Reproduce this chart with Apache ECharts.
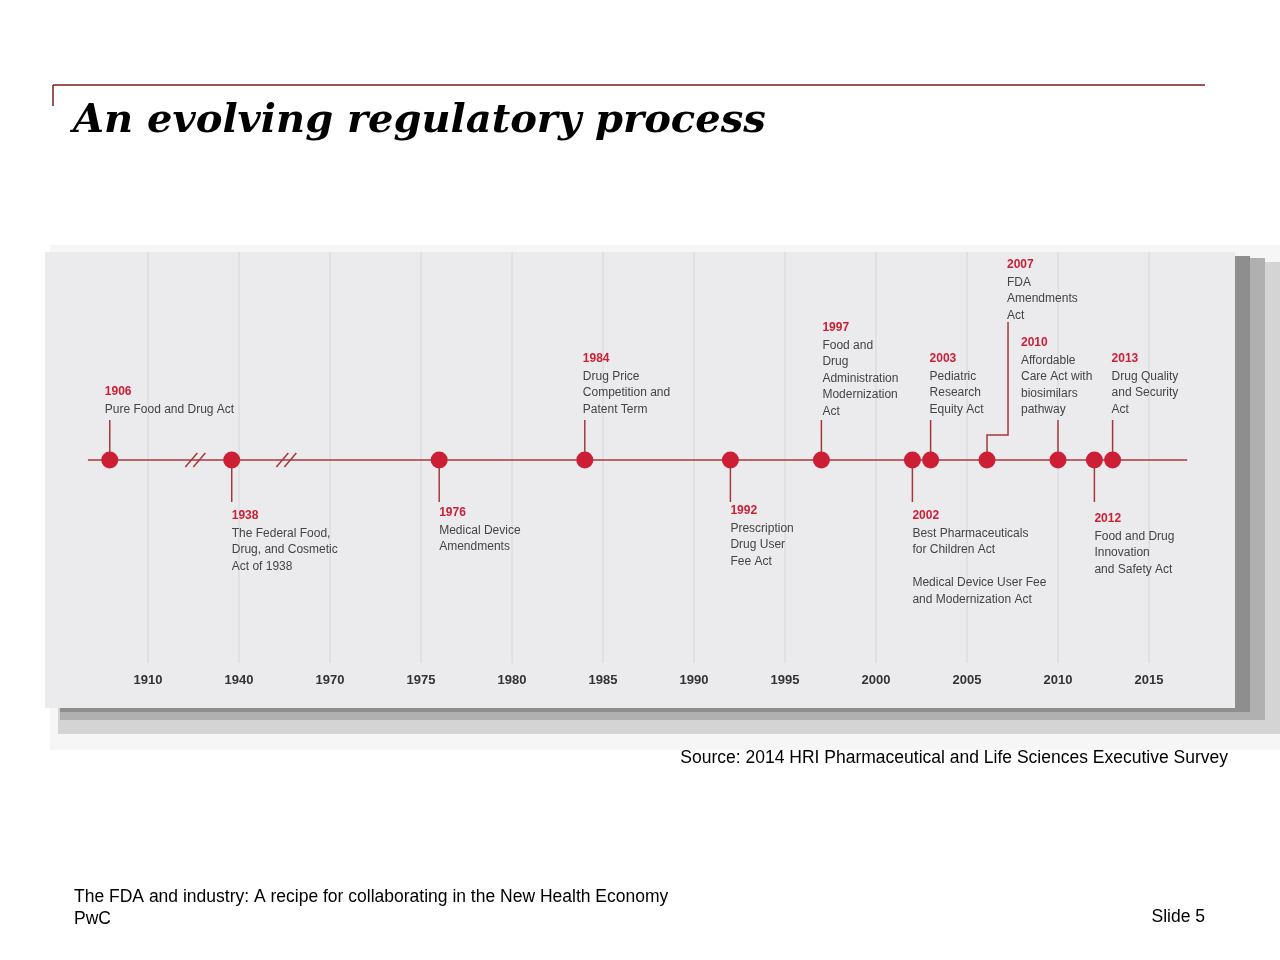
<!DOCTYPE html>
<html><head><meta charset="utf-8">
<script src="https://cdn.jsdelivr.net/npm/echarts@6/dist/echarts.min.js"></script>
<style>html,body{margin:0;padding:0;background:#fff}#c{width:1280px;height:960px}</style>
</head><body><div id="c"></div>
<script>
// Axis tick labels (axis value -> shown label; early decades compressed)
const tickValues = [1960,1965,1970,1975,1980,1985,1990,1995,2000,2005,2010,2015];
const tickLabels = ['1910','1940','1970','1975','1980','1985','1990','1995','2000','2005','2010','2015'];
// Events
const eventYears = ['1906','1938','1976','1984','1992','1997','2002','2003','2007','2010','2012','2013'];
const eventPos   = [1957.9,1964.6,1976,1984,1992,1997,2002,2003,2006.1,2010,2012,2013];
const eventText = [
 'Pure Food and Drug Act',
 'The Federal Food,\nDrug, and Cosmetic\nAct of 1938',
 'Medical Device\nAmendments',
 'Drug Price\nCompetition and\nPatent Term',
 'Prescription\nDrug User\nFee Act',
 'Food and\nDrug\nAdministration\nModernization\nAct',
 'Best Pharmaceuticals\nfor Children Act\n\nMedical Device User Fee\nand Modernization Act',
 'Pediatric\nResearch\nEquity Act',
 'FDA\nAmendments\nAct',
 'Affordable\nCare Act with\nbiosimilars\npathway',
 'Food and Drug\nInnovation\nand Safety Act',
 'Drug Quality\nand Security\nAct'
];
// layout: side (1 up, -1 down), year label top pixel, text x offset from dot
const eventSide = [1,-1,-1,1,-1,1,-1,1,1,1,-1,1];
const eventLabelTop = [386,510,507,353,505,322,510,353,259,337,513,353];
const eventTextDx = [-5,0,0,-2,0,1,0,-1,0,-37,0,-1];

const TOP = 252, LINE_Y = 460;
const labelMap = {}; tickValues.forEach((v,i)=>labelMap[v]=tickLabels[i]);

const chart = echarts.init(document.getElementById('c'));
const yv = p => p - TOP;
const FONT = '12px "Liberation Sans", Arial, sans-serif';
chart.setOption({
  animation:false,
  graphic:[
    {type:'rect',shape:{x:50,y:245,width:1230,height:505},style:{fill:'#f6f6f6'},z:-11},
    {type:'rect',shape:{x:58,y:262,width:1222,height:472},style:{fill:'#d4d4d4'},z:-10},
    {type:'rect',shape:{x:60,y:258,width:1205,height:462},style:{fill:'#b0b0b0'},z:-9},
    {type:'rect',shape:{x:60,y:256,width:1190,height:456},style:{fill:'#8e8e8e'},z:-8},
    {type:'rect',shape:{x:45,y:252,width:1190,height:456},style:{fill:'#ebebed'},z:-7},
    {type:'line',shape:{x1:53,y1:85,x2:1205,y2:85},style:{stroke:'#7b1c1c',lineWidth:1.5}},
    {type:'line',shape:{x1:53,y1:85,x2:53,y2:106},style:{stroke:'#7b1c1c',lineWidth:1.5}},
    {type:'text',left:73,top:102,style:{text:'An evolving regulatory process',fill:'#000',
      font:'italic bold 40px "DejaVu Serif", "Liberation Serif", serif'}},
    {type:'text',right:52,top:749,style:{text:'Source: 2014 HRI Pharmaceutical and Life Sciences Executive Survey',fill:'#000',font:'17.5px "Liberation Sans", Arial, sans-serif'}},
    {type:'text',left:74,top:886,style:{text:'The FDA and industry: A recipe for collaborating in the New Health Economy\nPwC',fill:'#000',font:'17.5px "Liberation Sans", Arial, sans-serif',lineHeight:22}},
    {type:'text',right:75,top:908,style:{text:'Slide 5',fill:'#000',font:'17.5px "Liberation Sans", Arial, sans-serif'}}
  ],
  grid:{left:57,top:TOP,width:1183,height:456},
  xAxis:{type:'value',min:1955,max:2020,interval:5,
    axisLine:{show:false},axisTick:{show:false},splitLine:{show:false},
    axisLabel:{margin:-34,color:'#333',fontWeight:'bold',fontSize:13,showMinLabel:false,showMaxLabel:false,
      fontFamily:'"Liberation Sans", Arial',formatter:v=>labelMap[v]||''}},
  yAxis:{type:'value',min:0,max:456,inverse:true,show:false},
  series:[
    {type:'custom',z:1,data:tickValues.map(v=>[v]),renderItem:(p,api)=>{
      const a=api.coord([api.value(0),0]), b=api.coord([api.value(0),456]);
      return {type:'line',shape:{x1:a[0],y1:a[1],x2:b[0],y2:b[1]-45},style:{stroke:'#d6d6d8',lineWidth:1}};
    }},
    {type:'custom',z:2,data:[[1956.7,2017.1]],renderItem:(p,api)=>{
      const a=api.coord([api.value(0),yv(LINE_Y)]), b=api.coord([api.value(1),yv(LINE_Y)]);
      const ch=[{type:'line',shape:{x1:a[0],y1:a[1],x2:b[0],y2:b[1]},style:{stroke:'#a8373b',lineWidth:1.5}}];
      [1962.6,1967.6].forEach(v=>{
        const c=api.coord([v,yv(LINE_Y)]);
        [-4,4].forEach(o=>ch.push({type:'line',shape:{x1:c[0]+o-6,y1:c[1]+7,x2:c[0]+o+6,y2:c[1]-7},style:{stroke:'#a8373b',lineWidth:1.5}}));
      });
      return {type:'group',children:ch};
    }},
    {type:'custom',z:3,data:eventPos.map((v,i)=>[v,i]),renderItem:(p,api)=>{
      const i=api.value(1), pos=api.value(0);
      const d=api.coord([pos,yv(LINE_Y)]);
      const x=d[0], y=d[1];
      const up=eventSide[i]===1, top=eventLabelTop[i];
      const ch=[];
      let tx=x+eventTextDx[i];
      if(eventYears[i]==='2007'){
        const x2=x+21;
        ch.push({type:'polyline',shape:{points:[[x,y],[x,435],[x2,435],[x2,322]]},style:{stroke:'#a8373b',fill:null,lineWidth:1.5}});
        tx=x2-1;
      } else if(up){
        ch.push({type:'line',shape:{x1:x,y1:y,x2:x,y2:420},style:{stroke:'#a8373b',lineWidth:1.5}});
      } else {
        ch.push({type:'line',shape:{x1:x,y1:y,x2:x,y2:502},style:{stroke:'#a8373b',lineWidth:1.5}});
      }
      ch.push({type:'circle',shape:{cx:x,cy:y,r:8.5},style:{fill:'#cc1f36'}});
      ch.push({type:'text',style:{x:tx,y:top,text:eventYears[i],fill:'#cc1f36',font:'bold '+FONT}});
      ch.push({type:'text',style:{x:tx,y:top+15,text:eventText[i],fill:'#444',font:FONT,lineHeight:16.5}});
      return {type:'group',children:ch};
    }}
  ]
});
</script></body></html>
